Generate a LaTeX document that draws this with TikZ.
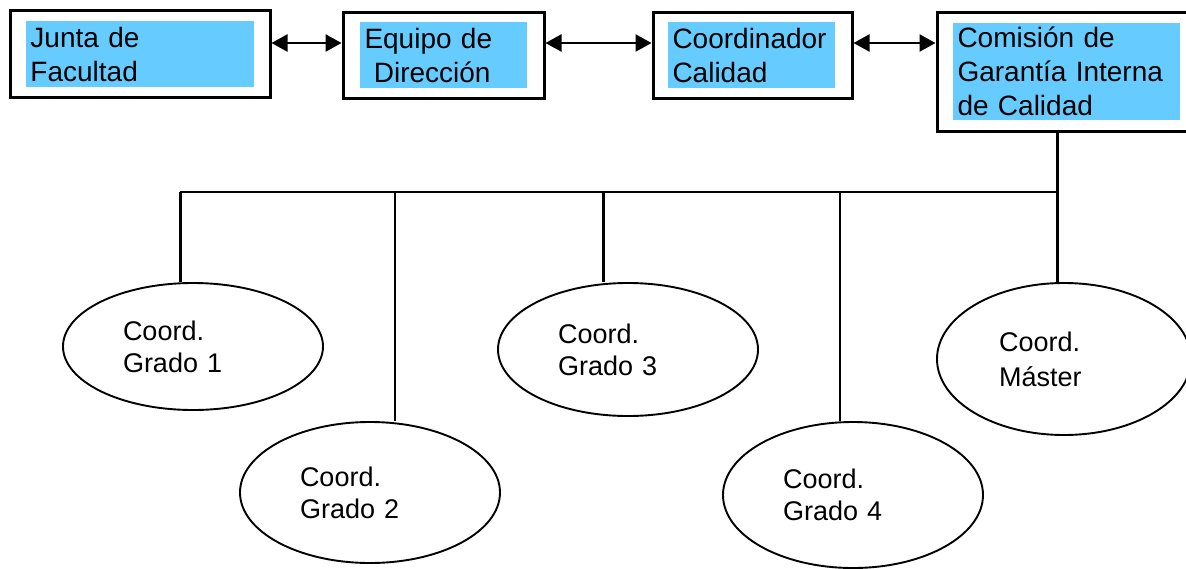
\documentclass[tikz,border=0pt]{standalone}
\usepackage{fontspec}
\setmainfont{Liberation Sans}
\usetikzlibrary{arrows.meta,shapes.geometric}
\definecolor{azulcaja}{RGB}{102,204,255}
\tikzset{
  marco/.style={draw,line width=3pt,inner sep=0pt},
  azul/.style={fill=azulcaja,align=left,inner xsep=4.5pt,inner ysep=0pt,
    font=\fontsize{28}{34}\selectfont},
  coord/.style={draw,ellipse,line width=1.9pt,inner sep=0pt,align=left,
    text width=140pt,font=\fontsize{27}{32}\selectfont},
  flecha/.style={<->,>={Triangle[length=16pt,width=17pt]},line width=2.4pt},
  gruesa/.style={line width=3pt},
  fina/.style={line width=1.8pt}
}
\begin{document}
\begin{tikzpicture}[x=1pt,y=-1pt]
\useasboundingbox (0,0) rectangle (1186,568);
% cajas de arriba
\node[marco,minimum width=260pt,minimum height=87pt] (junta) at (140,53.5) {};
\node[azul,minimum height=66pt,text width=219pt] at (140,54) {Junta de\\Facultad};
\node[marco,minimum width=201pt,minimum height=86pt] (equipo) at (443.5,55) {};
\node[azul,minimum height=66pt,text width=158pt] at (443.5,55) {Equipo de\\~Dirección};
\node[marco,minimum width=199pt,minimum height=86pt] (coordcal) at (752.5,55) {};
\node[azul,minimum height=66pt,text width=158pt] at (751.5,55) {Coordinador\\Calidad};
\node[marco,minimum width=253pt,minimum height=119pt] (cgic) at (1063.5,71.5) {};
\node[azul,minimum height=97pt,text width=218pt] at (1066.5,71.5) {Comisión de\\Garantía Interna\\de Calidad};
\coordinate (nivel) at (0,43);
\draw[flecha] (junta.east |- nivel) -- (equipo.west |- nivel);
\draw[flecha] (equipo.east |- nivel) -- (coordcal.west |- nivel);
\draw[flecha] (coordcal.east |- nivel) -- (cgic.west |- nivel);
% coordinadores
\node[coord,minimum width=260pt,minimum height=127pt] (g1) at (193,346.5) {Coord.\\Grado 1};
\node[coord,minimum width=260pt,minimum height=141pt] (g2) at (370,492.5) {Coord.\\Grado 2};
\node[coord,minimum width=260pt,minimum height=133pt] (g3) at (628,349.5) {Coord.\\Grado 3};
\node[coord,minimum width=260pt,minimum height=146pt] (g4) at (853,495) {Coord.\\Grado 4};
\node[coord,minimum width=254pt,minimum height=152pt,text width=130pt,
  font=\fontsize{27}{35}\selectfont] (master) at (1064,359) {Coord.\\Máster};
% lineas
\coordinate (b1) at (180,192);
\coordinate (b2) at (395,192);
\coordinate (b3) at (603,192);
\coordinate (b4) at (840,192);
\coordinate (hub) at (1057,192);
\draw[line width=2.8pt] (b1) -- (hub);
\draw[gruesa] (hub |- cgic.south) -- (hub |- master.north);
\draw[gruesa] (b1) -- (b1 |- g1.north);
\draw[fina] (b2) -- (b2 |- g2.north);
\draw[gruesa] (b3) -- (b3 |- g3.north);
\draw[fina] (b4) -- (b4 |- g4.north);
\end{tikzpicture}
\end{document}
